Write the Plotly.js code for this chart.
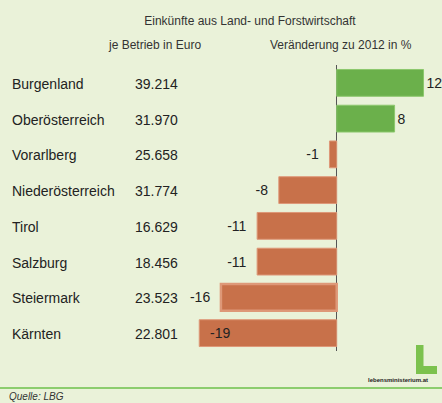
<!DOCTYPE html>
<html>
<head>
<meta charset="utf-8">
<script src="https://cdn.plot.ly/plotly-3.0.1.min.js"></script>
<style>
html,body{margin:0;padding:0;background:#EAF2D9;}
#chart{width:442px;height:403px;}
</style>
</head>
<body>
<div id="chart"></div>
<script>
// Data
const regions = ["Burgenland","Oberösterreich","Vorarlberg","Niederösterreich","Tirol","Salzburg","Steiermark","Kärnten"];
const incomeLabels = ["39.214","31.970","25.658","31.774","16.629","18.456","23.523","22.801"];
const changePct = [12, 8, -1, -8, -11, -11, -16, -19];
const textPositions = ["outside","outside","outside","outside","outside","outside","outside","inside"];
const titleText = "Einkünfte aus Land- und Forstwirtschaft";
const subLeft = "je Betrieb in Euro";
const subRight = "Veränderung zu 2012 in %";
const sourceText = "Quelle: LBG";
const logoText = "lebensministerium.at";

// Layout geometry (page pixels)
const W = 442, Hpx = 403;
const M = {l:192, r:4, t:65, b:52};
const PW = W - M.l - M.r, PH = Hpx - M.t - M.b;
const px2x = px => (px - M.l) / PW;
const py2y = py => (Hpx - M.b - py) / PH;

const FONT = "Liberation Sans, Arial, Helvetica, sans-serif";
const GREEN = "#6BB04B", ORANGE = "#C8714A";
const NB = "\u00a0";

const colors = changePct.map(v => v >= 0 ? GREEN : ORANGE);
const lineColors = changePct.map(v => v >= 0 ? "#8CC86C" : "#DE9878");
const lineWidths = regions.map(r => r === "Steiermark" ? 2.5 : 1);
const barTexts = changePct.map((v, i) => {
  if (textPositions[i] === "inside") return NB + NB + String(v);
  return v < 0 ? String(v) + NB + NB : String(v);
});

const trace = {
  type: "bar",
  orientation: "h",
  y: regions,
  x: changePct,
  marker: {color: colors, line: {color: lineColors, width: lineWidths}},
  text: barTexts,
  textposition: textPositions,
  insidetextanchor: "end",
  textangle: 0,
  textfont: {family: FONT, size: 14, color: "#222"},
  insidetextfont: {family: FONT, size: 14, color: "#222"},
  outsidetextfont: {family: FONT, size: 14, color: "#222"},
  cliponaxis: false,
  hoverinfo: "skip"
};

const annotations = [];
regions.forEach((r, i) => {
  annotations.push({xref:"paper", yref:"y", x: px2x(10), y: r, xanchor:"left", yanchor:"middle",
    text: r, showarrow:false, yshift:-1, font:{family:FONT, size:14, color:"#222"}});
  annotations.push({xref:"paper", yref:"y", x: px2x(133), y: r, xanchor:"left", yanchor:"middle",
    text: incomeLabels[i], showarrow:false, yshift:-1, font:{family:FONT, size:14, color:"#222"}});
});
annotations.push({xref:"paper", yref:"paper", x: px2x(106), y: py2y(45), xanchor:"left", yanchor:"middle",
  text: subLeft, showarrow:false, font:{family:FONT, size:12, color:"#333"}});
annotations.push({xref:"paper", yref:"paper", x: px2x(268), y: py2y(45), xanchor:"left", yanchor:"middle",
  text: subRight, showarrow:false, font:{family:FONT, size:12, color:"#333"}});
annotations.push({xref:"paper", yref:"paper", x: px2x(8), y: py2y(403), xanchor:"left", yanchor:"bottom",
  text: "<i>" + sourceText + "</i>", showarrow:false, borderpad:0, font:{family:FONT, size:10, color:"#333"}});
annotations.push({xref:"paper", yref:"paper", x: px2x(398), y: py2y(380), xanchor:"center", yanchor:"middle",
  text: "<b>" + logoText + "</b>", showarrow:false, font:{family:FONT, size:6, color:"#222"}});

const shapes = [
  {type:"line", xref:"paper", yref:"paper", x0: px2x(0), x1: px2x(442), y0: py2y(388), y1: py2y(388),
   line:{color:"#6CC04A", width:1.5}},
  {type:"rect", xref:"paper", yref:"paper", x0: px2x(416), x1: px2x(423.5), y0: py2y(374), y1: py2y(345),
   fillcolor:"#7CC24E", line:{width:0}},
  {type:"rect", xref:"paper", yref:"paper", x0: px2x(416), x1: px2x(437), y0: py2y(374), y1: py2y(366),
   fillcolor:"#7CC24E", line:{width:0}}
];

const layout = {
  width: W, height: Hpx,
  margin: M,
  paper_bgcolor: "#EAF2D9",
  plot_bgcolor: "rgba(0,0,0,0)",
  showlegend: false,
  hovermode: false,
  bargap: 0.25,
  font: {family: FONT, color:"#222"},
  title: {text: titleText, x: 250 / W, xanchor:"center", y: 1 - 21 / Hpx, yanchor:"middle", yref:"container",
          font:{family:FONT, size:12, color:"#333"}},
  xaxis: {range:[-20, 14], showgrid:false, showticklabels:false, zeroline:true, zerolinecolor:"#555",
          zerolinewidth:1, showline:false, ticks:"", fixedrange:true},
  yaxis: {type:"category", range:[7.5, -0.5], showgrid:false, showticklabels:false, zeroline:false,
          showline:false, ticks:"", fixedrange:true},
  annotations: annotations,
  shapes: shapes
};

Plotly.newPlot("chart", [trace], layout, {displayModeBar:false, staticPlot:true});
</script>
</body>
</html>
